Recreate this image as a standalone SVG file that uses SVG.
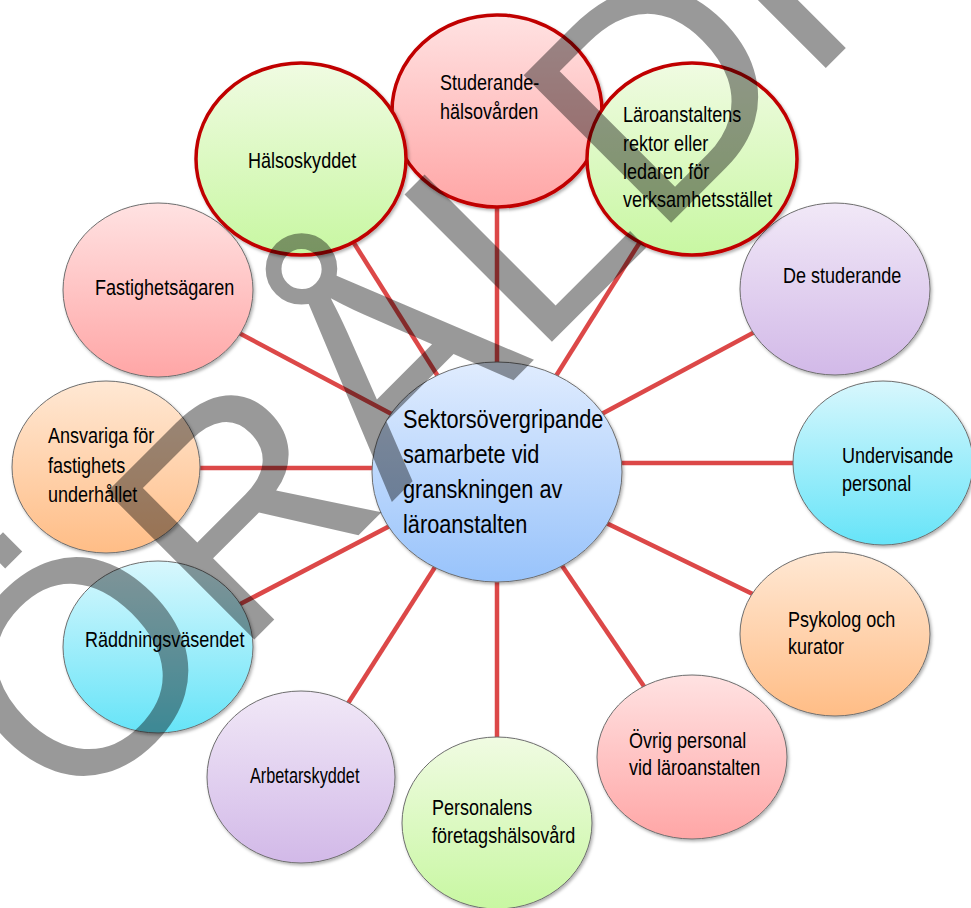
<svg xmlns="http://www.w3.org/2000/svg" width="971" height="908" viewBox="0 0 971 908">
<defs>
<linearGradient id="gPink" x1="0" y1="0" x2="0" y2="1"><stop offset="0" stop-color="#ffe2e2"/><stop offset="1" stop-color="#ffa6a6"/></linearGradient>
<linearGradient id="gGreen" x1="0" y1="0" x2="0" y2="1"><stop offset="0" stop-color="#f0fbe2"/><stop offset="1" stop-color="#c8f7a2"/></linearGradient>
<linearGradient id="gPurple" x1="0" y1="0" x2="0" y2="1"><stop offset="0" stop-color="#f1e8f7"/><stop offset="1" stop-color="#d2b9e8"/></linearGradient>
<linearGradient id="gCyan" x1="0" y1="0" x2="0" y2="1"><stop offset="0" stop-color="#d8f7fd"/><stop offset="1" stop-color="#66e4f8"/></linearGradient>
<linearGradient id="gOrange" x1="0" y1="0" x2="0" y2="1"><stop offset="0" stop-color="#ffe8d4"/><stop offset="1" stop-color="#ffbd86"/></linearGradient>
<linearGradient id="gBlue" x1="0" y1="0" x2="0" y2="1"><stop offset="0" stop-color="#e0ecfe"/><stop offset="1" stop-color="#98c3fb"/></linearGradient>
<filter id="sh" x="-10%" y="-10%" width="125%" height="125%"><feDropShadow dx="1.5" dy="2" stdDeviation="1.5" flood-color="#000" flood-opacity="0.3"/></filter>
</defs>
<style>
.node { stroke:#6e6e6e; stroke-width:1; filter:url(#sh); }
.key { stroke:#c00000; stroke-width:3.5; filter:url(#sh); }
.lbl { font-family:"Liberation Sans",sans-serif; font-size:22px; fill:#000; }
.big { font-family:"Liberation Sans",sans-serif; font-size:26.5px; fill:#000; }
.conn line { stroke:#dc4848; stroke-width:4.5; }
.wm { font-family:"Liberation Sans",sans-serif; font-size:303px; fill:#000; fill-opacity:0.4; }
</style>
<g id="connectors" class="conn">
<line x1="497" y1="470" x2="497" y2="111"/>
<line x1="497" y1="470" x2="301" y2="159"/>
<line x1="497" y1="470" x2="692" y2="159"/>
<line x1="497" y1="470" x2="158" y2="290"/>
<line x1="497" y1="470" x2="835" y2="289"/>
<line x1="497" y1="468" x2="106" y2="468"/>
<line x1="497" y1="463" x2="883" y2="463"/>
<line x1="497" y1="470" x2="158" y2="647"/>
<line x1="497" y1="470" x2="835" y2="634"/>
<line x1="497" y1="470" x2="301" y2="777"/>
<line x1="497" y1="470" x2="692" y2="757"/>
<line x1="497" y1="470" x2="497" y2="823"/>
</g>
<g id="n-destuderande"><ellipse class="node" cx="835" cy="289" rx="95" ry="86" fill="url(#gPurple)"/><g transform="matrix(.82 0 0 1 140.94 0)"><text class="lbl" x="783" y="283">De studerande</text></g></g>
<g id="n-fastighetsagaren"><ellipse class="node" cx="158" cy="290" rx="95" ry="87" fill="url(#gPink)"/><g transform="matrix(.82 0 0 1 17.1 0)"><text class="lbl" x="95" y="295">Fastighetsägaren</text></g></g>
<g id="n-ansvariga"><ellipse class="node" cx="106" cy="467" rx="94" ry="86" fill="url(#gOrange)"/><g transform="matrix(.82 0 0 1 8.64 0)"><text class="lbl" x="48" y="443">Ansvariga för</text><text class="lbl" x="48" y="473">fastighets</text><text class="lbl" x="48" y="502">underhållet</text></g></g>
<g id="n-undervisande"><ellipse class="node" cx="883" cy="463" rx="90" ry="82" fill="url(#gCyan)"/><g transform="matrix(.82 0 0 1 151.56 0)"><text class="lbl" x="842" y="463">Undervisande</text><text class="lbl" x="842" y="491">personal</text></g></g>
<g id="n-raddning"><ellipse class="node" cx="158" cy="647" rx="95" ry="86" fill="url(#gCyan)"/><g transform="matrix(.82 0 0 1 15.3 0)"><text class="lbl" x="85" y="647">Räddningsväsendet</text></g></g>
<g id="n-psykolog"><ellipse class="node" cx="835" cy="634" rx="95" ry="82" fill="url(#gOrange)"/><g transform="matrix(.82 0 0 1 141.84 0)"><text class="lbl" x="788" y="627">Psykolog och</text><text class="lbl" x="788" y="654">kurator</text></g></g>
<g id="n-arbetarskyddet"><ellipse class="node" cx="301" cy="777" rx="94" ry="86" fill="url(#gPurple)"/><g transform="matrix(.74 0 0 1 65 0)"><text class="lbl" x="250" y="783">Arbetarskyddet</text></g></g>
<g id="n-ovrig"><ellipse class="node" cx="692" cy="757" rx="95" ry="82" fill="url(#gPink)"/><g transform="matrix(.82 0 0 1 113.22 0)"><text class="lbl" x="629" y="748">Övrig personal</text><text class="lbl" x="629" y="775">vid läroanstalten</text></g></g>
<g id="n-personalens"><ellipse class="node" cx="497" cy="823" rx="95" ry="86" fill="url(#gGreen)"/><g transform="matrix(.82 0 0 1 77.76 0)"><text class="lbl" x="432" y="815">Personalens</text><text class="lbl" x="432" y="843">företagshälsovård</text></g></g>
<g id="n-studerandehalso"><ellipse class="key" cx="497" cy="111" rx="105" ry="96" fill="url(#gPink)"/><g transform="matrix(.82 0 0 1 79.2 0)"><text class="lbl" x="440" y="90">Studerande-</text><text class="lbl" x="440" y="119">hälsovården</text></g></g>
<g id="n-halsoskyddet"><ellipse class="key" cx="301" cy="159" rx="105" ry="96" fill="url(#gGreen)"/><g transform="matrix(.82 0 0 1 44.64 0)"><text class="lbl" x="248" y="168">Hälsoskyddet</text></g></g>
<g id="n-laroanstaltens"><ellipse class="key" cx="692" cy="159" rx="105" ry="96" fill="url(#gGreen)"/><g transform="matrix(.82 0 0 1 112.14 0)"><text class="lbl" x="623" y="122">Läroanstaltens</text><text class="lbl" x="623" y="151">rektor eller</text><text class="lbl" x="623" y="179">ledaren för</text><text class="lbl" x="623" y="207">verksamhetsstället</text></g></g>
<g id="n-center"><ellipse class="node" cx="497" cy="472" rx="125" ry="110" fill="url(#gBlue)"/><g transform="matrix(.82 0 0 1 72.54 0)"><text class="big" x="403" y="428">Sektorsövergripande</text><text class="big" x="403" y="463">samarbete vid</text><text class="big" x="403" y="498">granskningen av</text><text class="big" x="403" y="533">läroanstalten</text></g></g>
<text class="wm" x="-718" y="632" transform="rotate(-45)">FÖRÅLDRAD</text>
</svg>
